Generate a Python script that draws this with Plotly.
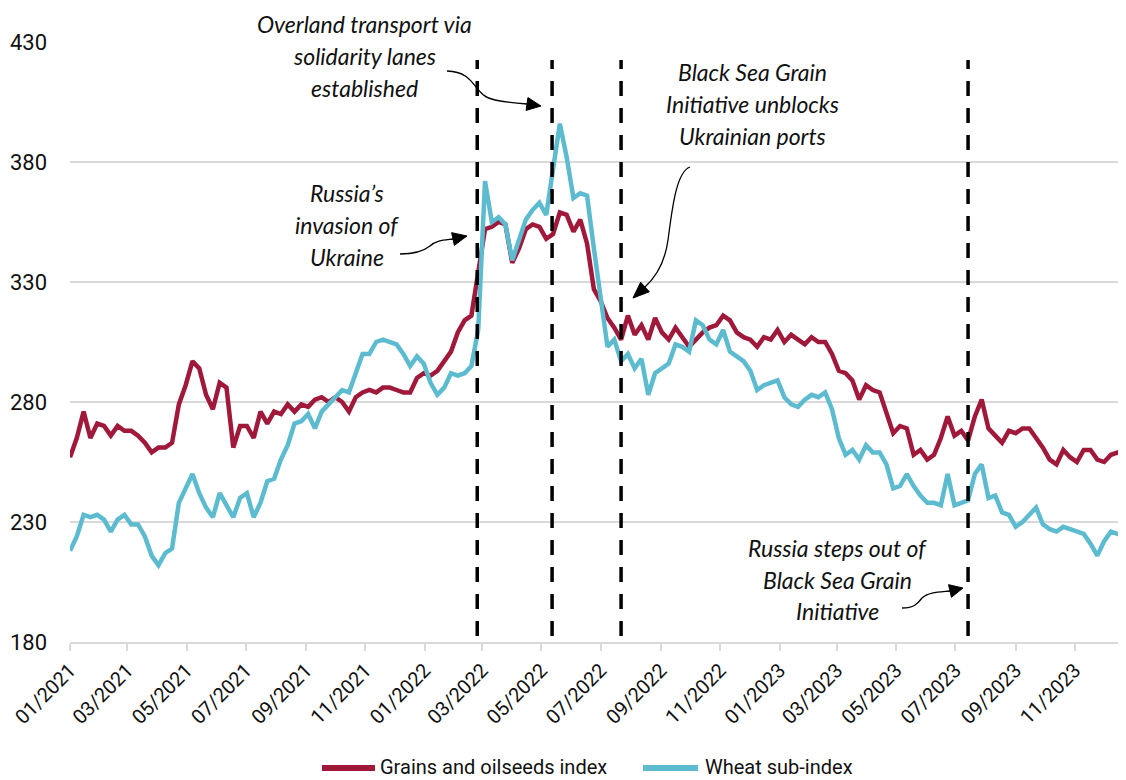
import plotly.graph_objects as go
import pandas as pd
import math

# ---------------- data (weekly readings) ----------------
start_date = "2021-01-01"
n_weeks = 156
weeks = pd.date_range(start_date, periods=n_weeks, freq="7D")

grains = [257, 265, 276, 265, 271, 270, 266, 270, 268, 268,
          266, 263, 259, 261, 261, 263, 279, 287, 297, 294,
          283, 277, 288, 286, 261, 270, 270, 265, 276, 271,
          276, 275, 279, 276, 279, 278, 281, 282, 280, 282,
          280, 276, 282, 284, 285, 284, 286, 286, 285, 284,
          284, 290, 292, 291, 293, 297, 301, 309, 314, 316,
          333, 352, 353, 355, 354, 338, 344, 352, 354, 353,
          348, 350, 359, 358, 351, 356, 346, 327, 322, 315,
          311, 306, 316, 308, 312, 306, 315, 309, 306, 311,
          307, 303, 306, 309, 311, 312, 316, 314, 309, 307,
          306, 303, 307, 306, 310, 305, 308, 306, 304, 307,
          305, 305, 300, 293, 292, 289, 281, 287, 285, 284,
          276, 267, 270, 269, 258, 260, 256, 258, 265, 274,
          266, 268, 264, 274, 281, 269, 266, 263, 268, 267,
          269, 269, 265, 261, 256, 254, 260, 257, 255, 260,
          260, 256, 255, 258, 259, 257]

wheat = [218, 224, 233, 232, 233, 231, 226, 231, 233, 229,
         229, 224, 216, 212, 217, 219, 238, 244, 250, 242,
         236, 232, 242, 237, 232, 240, 242, 232, 238, 247,
         248, 256, 262, 271, 272, 275, 269, 276, 279, 282,
         285, 284, 292, 300, 300, 305, 306, 305, 304, 300,
         295, 299, 296, 288, 283, 286, 292, 291, 292, 295,
         310, 372, 355, 357, 354, 339, 347, 356, 360, 363,
         358, 378, 396, 382, 365, 367, 366, 344, 322, 303,
         306, 297, 300, 294, 298, 283, 292, 294, 296, 304,
         303, 301, 314, 312, 306, 304, 310, 301, 299, 297,
         293, 285, 287, 288, 289, 282, 279, 278, 281, 283,
         282, 284, 277, 265, 258, 260, 256, 262, 259, 259,
         254, 244, 245, 250, 245, 241, 238, 238, 237, 250,
         237, 238, 239, 250, 254, 240, 241, 234, 233, 228,
         230, 233, 236, 229, 227, 226, 228, 227, 226, 225,
         221, 216, 222, 226, 225, 224]

series_names = ["Grains and oilseeds index", "Wheat sub-index"]
y_ticks = [180, 230, 280, 330, 380, 430]
event_dates = ["2022-02-24", "2022-05-12", "2022-07-22", "2023-07-14"]

# ---------------- layout geometry ----------------
# the page body has an 8px margin; figure is sized so the plot sits where the reference has it
OFF = 8
W, H = 1126 - OFF, 780 - OFF
PL, PT = 70, 42          # plot-area left/top in page pixels
PW, PH = 1056, 600       # plot-area size
ML, MT = PL - OFF, PT - OFF
MR = W - ML - PW
MB = H - MT - PH

RED = "#A0183A"
BLUE = "#5DBBD0"
GRID = "#D9D9D9"
TICKFONT = "Roboto, Liberation Sans, sans-serif"
NOTEFONT = "Lato"
colors = [RED, BLUE]


def P(x, y):
    """page pixel -> paper coordinates"""
    return (x - PL) / PW, (PT + PH - y) / PH


def path_str(cmds):
    out = []
    for c in cmds:
        if c[0] in ("M", "L"):
            px, py = P(c[1], c[2])
            out.append(f"{c[0]} {px:.5f},{py:.5f}")
        else:  # C
            pts = [P(c[1], c[2]), P(c[3], c[4]), P(c[5], c[6])]
            out.append("C " + " ".join(f"{a:.5f},{b:.5f}" for a, b in pts))
    return " ".join(out)


def head(base, tip, hw=6.5):
    bx, by = base
    tx, ty = tip
    dx, dy = tx - bx, ty - by
    L = math.hypot(dx, dy)
    nx, ny = -dy / L, dx / L
    p1 = (bx + nx * hw, by + ny * hw)
    p2 = (bx - nx * hw, by - ny * hw)
    return path_str([("M", *tip), ("L", *p1), ("L", *p2)]) + " Z"


fig = go.Figure()
fig.add_trace(go.Scatter(x=weeks, y=grains, mode="lines", name=series_names[0],
                         line=dict(color=RED, width=4.5)))
fig.add_trace(go.Scatter(x=weeks, y=wheat, mode="lines", name=series_names[1],
                         line=dict(color=BLUE, width=4.5)))

shapes = []
for d in event_dates:
    shapes.append(dict(type="line", xref="x", yref="paper", x0=d, x1=d,
                       y0=0.01, y1=0.97,
                       line=dict(color="black", width=3.5, dash="15px,12px")))

# curved arrows (page pixel coords converted to paper)
arrows = [
    ([("M", 447, 71), ("C", 478, 72, 472, 96, 495, 100), ("C", 505, 102, 515, 103, 527, 104)],
     (527, 104), (541, 106)),
    ([("M", 400, 254), ("C", 418, 254, 425, 250, 430, 246), ("C", 436, 240, 445, 240, 453, 239)],
     (453, 239), (467, 236)),
    ([("M", 690, 167), ("C", 676, 172, 672, 210, 668, 240), ("C", 665, 262, 657, 276, 645, 287)],
     (645, 287), (633, 298)),
    ([("M", 902, 608), ("C", 915, 608, 918, 603, 922, 598), ("C", 928, 592, 940, 592, 950, 591)],
     (950, 591), (963, 588)),
]
for cmds, base, tip in arrows:
    shapes.append(dict(type="path", xref="paper", yref="paper", path=path_str(cmds),
                       line=dict(color="black", width=1.3)))
    shapes.append(dict(type="path", xref="paper", yref="paper", path=head(base, tip),
                       fillcolor="black", line=dict(color="black", width=1)))

notes = [
    (364, 24, "Overland transport via"),
    (364, 56, "solidarity lanes"),
    (364, 88, "established"),
    (347, 193, "Russia’s"),
    (347, 225, "invasion of"),
    (347, 257, "Ukraine"),
    (752, 72, "Black Sea Grain"),
    (752, 104, "Initiative unblocks"),
    (752, 136, "Ukrainian ports"),
    (837, 548, "Russia steps out of"),
    (837, 580, "Black Sea Grain"),
    (837, 611, "Initiative"),
]
annotations = []
for x, y, t in notes:
    px, py = P(x, y)
    annotations.append(dict(xref="paper", yref="paper", x=px, y=py, text=t,
                            showarrow=False, xanchor="center", yanchor="middle",
                            font=dict(family=NOTEFONT, size=23, color="#111111",
                                      style="italic")))

# legend (drawn manually to get the long, thick key lines of the reference)
legend_items = [((322, 375), 378), ((643, 698), 703)]
LEG_Y = 767
for (x0, x1), tx, name, col in zip([li[0] for li in legend_items],
                                  [li[1] for li in legend_items],
                                  series_names, colors):
    a0, b0 = P(x0, LEG_Y + 1)
    a1, _ = P(x1, LEG_Y + 1)
    shapes.append(dict(type="line", xref="paper", yref="paper", x0=a0, x1=a1, y0=b0, y1=b0,
                       line=dict(color=col, width=6)))
    tpx, tpy = P(tx, LEG_Y)
    annotations.append(dict(xref="paper", yref="paper", x=tpx, y=tpy, text=name,
                            showarrow=False, xanchor="left", yanchor="middle",
                            font=dict(family=TICKFONT, size=20, color="#111111")))

fig.update_layout(
    width=W, height=H,
    margin=dict(l=ML, r=MR, t=MT, b=MB, autoexpand=False),
    paper_bgcolor="white", plot_bgcolor="white",
    shapes=shapes, annotations=annotations,
    showlegend=False,
    xaxis=dict(type="date", range=["2021-01-01", "2023-12-23 12:00"],
               tick0="2021-01-01", dtick="M2", tickformat="%m/%Y",
               tickangle=-45, ticks="outside", ticklen=7, tickcolor=GRID, tickwidth=1.5,
               showgrid=False, showline=True, linecolor=GRID, linewidth=1.5,
               zeroline=False, automargin=False,
               tickfont=dict(family=TICKFONT, size=20, color="#111111")),
    yaxis=dict(range=[180, 430], tickvals=y_ticks, showgrid=True, gridcolor=GRID,
               gridwidth=1.5, zeroline=False, showline=False, ticks="",
               ticklabelstandoff=22, automargin=False,
               tickfont=dict(family=TICKFONT, size=22, color="#111111")),
)

fig.write_html("out.html")
